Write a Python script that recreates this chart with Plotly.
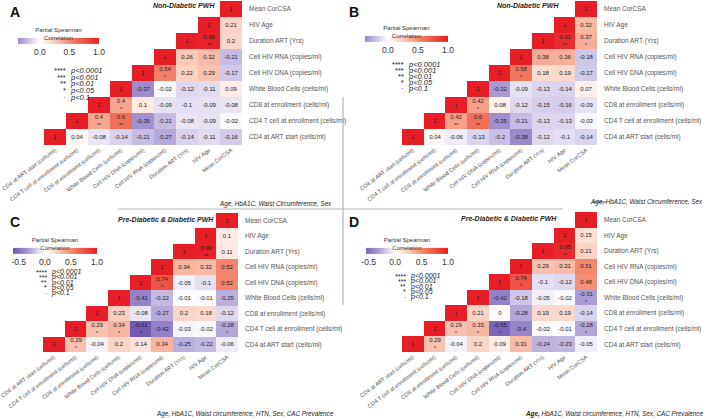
import plotly.graph_objects as go

W, H = 709, 419

VARS = ["CD4 at ART start (cells/ml)", "CD4 T cell at enrollment (cells/ml)",
        "CD8 at enrollment (cells/ml)", "White Blood Cells (cells/ml)",
        "Cell HIV DNA (copies/ml)", "Cell HIV RNA (copies/ml)",
        "Duration ART (Yrs)", "HIV Age", "Mean CorCSA"]

# rows from bottom (CD4 at ART start) to top (Mean CorCSA); each row lists columns i..8
A_vals = [[1, 0.04, -0.08, -0.14, -0.21, -0.27, -0.14, -0.11, -0.16],
          [1, 0.4, 0.6, -0.35, -0.21, -0.08, -0.09, -0.02],
          [1, 0.4, 0.1, -0.09, -0.1, -0.09, -0.08],
          [1, -0.37, -0.02, -0.12, -0.11, 0.09],
          [1, 0.54, 0.22, 0.29, -0.17],
          [1, 0.26, 0.32, -0.21],
          [1, 0.98, 0.2],
          [1, 0.21],
          [1]]
A_sig = [["", "", "", "", "", "", "", "", ""],
         ["", "**", "**", "", "", "", "", ""],
         ["", "*", "", "", "", "", ""],
         ["", "", "", "", "", ""],
         ["", "*", "", "", ""],
         ["", "", "", ""],
         ["", "**", ""],
         ["", ""],
         [""]]

B_vals = [[1, 0.04, -0.06, -0.13, -0.2, -0.38, -0.12, -0.1, -0.14],
          [1, 0.42, 0.6, -0.35, -0.21, -0.13, -0.13, -0.03],
          [1, 0.42, 0.08, -0.12, -0.15, -0.16, -0.09],
          [1, -0.32, -0.09, -0.13, -0.14, 0.07],
          [1, 0.58, 0.18, 0.19, -0.17],
          [1, 0.38, 0.36, -0.18],
          [1, 0.93, 0.37],
          [1, 0.32],
          [1]]
B_sig = [["", "", "", "", "", "", "", "", ""],
         ["", "**", "**", "", "", "", "", ""],
         ["", "*", "", "", "", "", ""],
         ["", "", "", "", "", ""],
         ["", "*", "", "", ""],
         ["", "", "", ""],
         ["", "**", "*"],
         ["", ""],
         [""]]

C_vals = [[1, 0.29, -0.04, 0.2, 0.14, 0.34, -0.25, -0.22, -0.06],
          [1, 0.29, 0.34, -0.61, -0.42, -0.03, -0.02, -0.28],
          [1, 0.23, -0.08, -0.27, 0.2, 0.18, -0.12],
          [1, -0.41, -0.22, -0.01, -0.01, -0.25],
          [1, 0.74, -0.05, -0.1, 0.52],
          [1, 0.34, 0.32, 0.52],
          [1, 0.99, 0.11],
          [1, 0.1],
          [1]]
C_sig = [["", "*", "", "", "", "", "", "", ""],
         ["", "*", "*", "*", "", "", "", "*"],
         ["", "", "", "", "", "", ""],
         ["", "", "", "", "", ""],
         ["", "*", "", "", ""],
         ["", "", "", ""],
         ["", "**", ""],
         ["", ""],
         [""]]

D_vals = [[1, 0.29, -0.04, 0.2, 0.09, 0.31, -0.24, -0.23, -0.05],
          [1, 0.29, 0.33, -0.55, -0.4, -0.02, -0.01, -0.28],
          [1, 0.21, 0, -0.28, 0.19, 0.19, -0.14],
          [1, -0.42, -0.18, -0.05, -0.02, -0.31],
          [1, 0.74, -0.1, -0.12, 0.48],
          [1, 0.29, 0.31, 0.51],
          [1, 0.95, 0.21],
          [1, 0.15],
          [1]]
D_sig = [["", "*", "", "", "", "", "", "", ""],
         ["", "*", "*", "*", "", "", "", "*"],
         ["", "", "", "", "", "", ""],
         ["", "", "", "", "", "*"],
         ["", "*", "", "", ""],
         ["", "", "", ""],
         ["", "**", ""],
         ["", ""],
         [""]]

TITLES = ["Non-Diabetic PWH", "Non-Diabetic PWH",
          "Pre-Diabetic & Diabetic PWH", "Pre-Diabetic & Diabetic PWH"]
LETTERS = ["A", "B", "C", "D"]
FOOT_AB = "Age, HbA1C, Waist Circumference, Sex"
FOOT_CD = "Age, HbA1C, Waist circumference, HTN, Sex, CAC Prevalence"
SIG_STARS = ["****", "***", "**", "*", "·"]
SIG_TEXT = ["p<0.0001", "p<0.001", "p<0.01", "p<0.05", "p<0.1"]

# full diverging gradient on [-1, 1]
GRAD = [(-1.0, (88, 58, 160)), (-0.6, (114, 90, 180)), (-0.35, (160, 144, 207)),
        (-0.15, (214, 207, 235)), (0.0, (255, 255, 255)), (0.2, (251, 214, 200)),
        (0.4, (246, 166, 142)), (0.6, (240, 112, 86)), (1.0, (232, 30, 38))]


def grad_color(v):
    for (a, ca), (b, cb) in zip(GRAD[:-1], GRAD[1:]):
        if a <= v <= b:
            t = (v - a) / (b - a)
            c = [round(ca[i] + t * (cb[i] - ca[i])) for i in range(3)]
            return f"rgb({c[0]},{c[1]},{c[2]})"
    return "rgb(255,255,255)"


def scale_for(zmin, n=40):
    out = []
    for k in range(n + 1):
        f = k / n
        out.append([f, grad_color(zmin + f * (1 - zmin))])
    return out


def px(x):
    return x / W


def py(y):
    return 1 - y / H


panels = [
    dict(vals=A_vals, sig=A_sig, xd=(44, 242), yd=(1, 145), cb=(18, 99, 39),
         ticks=[0, 0.5, 1]),
    dict(vals=B_vals, sig=B_sig, xd=(402, 597), yd=(1, 145), cb=(365, 448, 37),
         ticks=[0, 0.5, 1]),
    dict(vals=C_vals, sig=C_sig, xd=(43, 238), yd=(213, 352), cb=(13, 97, 249),
         ticks=[-0.5, 0, 0.5, 1]),
    dict(vals=D_vals, sig=D_sig, xd=(402, 597), yd=(212, 352), cb=(366, 448, 249),
         ticks=[-0.5, 0, 0.5, 1]),
]

FONT = "Arial, Liberation Sans, sans-serif"
fig = go.Figure()
layout = dict(width=W, height=H, margin=dict(l=0, r=0, t=0, b=0, autoexpand=False),
              paper_bgcolor="white", plot_bgcolor="white",
              font=dict(family=FONT, color="#444"), showlegend=False)

for k, p in enumerate(panels):
    n = len(VARS)
    z = [[None] * n for _ in range(n)]
    txt = [[""] * n for _ in range(n)]
    for i, row in enumerate(p["vals"]):
        for jj, v in enumerate(row):
            j = i + jj
            z[i][j] = v
            s = p["sig"][i][jj]
            label = f"{v:g}"
            if s:
                label += f"<br><span style='font-size:5px'>{s}</span>"
            txt[i][j] = label
    zmin = min(v for row in p["vals"] for v in row)
    ax = "" if k == 0 else str(k + 1)
    x0, x1 = p["xd"]
    y0, y1 = p["yd"]
    cbx0, cbx1, cby = p["cb"]
    fig.add_trace(go.Heatmap(
        z=z, x=VARS, y=VARS, text=txt, texttemplate="%{text}",
        textfont=dict(size=6, color="#222", family=FONT),
        colorscale=scale_for(zmin), zmin=zmin, zmax=1,
        xgap=0, ygap=0, hoverongaps=False,
        xaxis="x" + ax, yaxis="y" + ax,
        colorbar=dict(orientation="h", x=px(cbx0), xanchor="left",
                      len=cbx1 - cbx0, lenmode="pixels", thickness=6,
                      y=py(cby), yanchor="middle", xpad=0, ypad=0,
                      outlinewidth=0, ticks="",
                      tickvals=p["ticks"], ticktext=[f"{t:.1f}" for t in p["ticks"]],
                      tickfont=dict(size=8.5, color="#333"),
                      title=dict(text="Partial Spearman<br>Correlation", side="top",
                                 font=dict(size=6, color="#333")))))
    layout["xaxis" + ax] = dict(domain=[px(x0), px(x1)], anchor="y" + ax,
                                showgrid=False, zeroline=False, showline=False,
                                ticks="", tickangle=-37, automargin=False,
                                tickfont=dict(size=5.6, color="#555"), fixedrange=True)
    layout["yaxis" + ax] = dict(domain=[py(y1), py(y0)], anchor="x" + ax, side="right",
                                showgrid=False, zeroline=False, showline=False,
                                ticks="", ticklabelstandoff=6, automargin=False,
                                tickfont=dict(size=6.5, color="#555"), fixedrange=True)

ann = []


def note(x, y, text, xanchor, size, color="#222"):
    ann.append(dict(x=px(x), y=py(y), xref="paper", yref="paper", text=text,
                    showarrow=False, xanchor=xanchor, yanchor="middle",
                    font=dict(size=size, color=color)))


letter_pos = [(8, 12), (347, 12), (8, 222), (347, 222)]
for (lx, ly), L in zip(letter_pos, LETTERS):
    note(lx, ly, f"<b>{L}</b>", "left", 14, "#111")
title_pos = [(217, 6), (561, 6), (216, 219), (559, 218)]
for (tx, ty), T in zip(title_pos, TITLES):
    note(tx, ty, f"<b><i>{T}</i></b>", "right", 7)
foot = [(334, 204, FOOT_AB), (705, 202, FOOT_AB), (336, 414, FOOT_CD),
        (705, 414, "<b>Age,</b>" + FOOT_CD[4:])]
for fx, fy, T in foot:
    note(fx, fy, f"<i>{T}</i>", "right", 6.3)
sig_pos = [(68, [71, 77.5, 84, 90.5, 97], 7.5), (406, [64, 70, 76, 82, 88], 7.5),
           (49, [272, 277.3, 282.6, 287.9, 293.2], 7),
           (408, [276, 281.3, 286.6, 291.9, 297.2], 7)]
for sx, ys, fs in sig_pos:
    for yy, st, tx in zip(ys, SIG_STARS, SIG_TEXT):
        note(sx, yy, st, "right", fs)
        note(sx, yy, f"<i>{tx}</i>", "left", fs)
layout["annotations"] = ann

line_col = "#b5b5b5"
layout["shapes"] = [
    dict(type="line", xref="paper", yref="paper", x0=px(118), x1=px(563), y0=py(209),
         y1=py(209), line=dict(color=line_col, width=1.2)),
    dict(type="line", xref="paper", yref="paper", x0=px(343), x1=px(343), y0=py(97),
         y1=py(305), line=dict(color=line_col, width=1.2)),
    dict(type="line", xref="paper", yref="paper", x0=px(593), x1=px(606), y0=py(202),
         y1=py(202), line=dict(color="#222", width=0.8)),
]

fig.update_layout(**layout)
fig.write_html("out.html", config={"displayModeBar": False},
               post_script="document.body.style.margin='0px';"
                           "document.body.style.overflow='hidden';")
